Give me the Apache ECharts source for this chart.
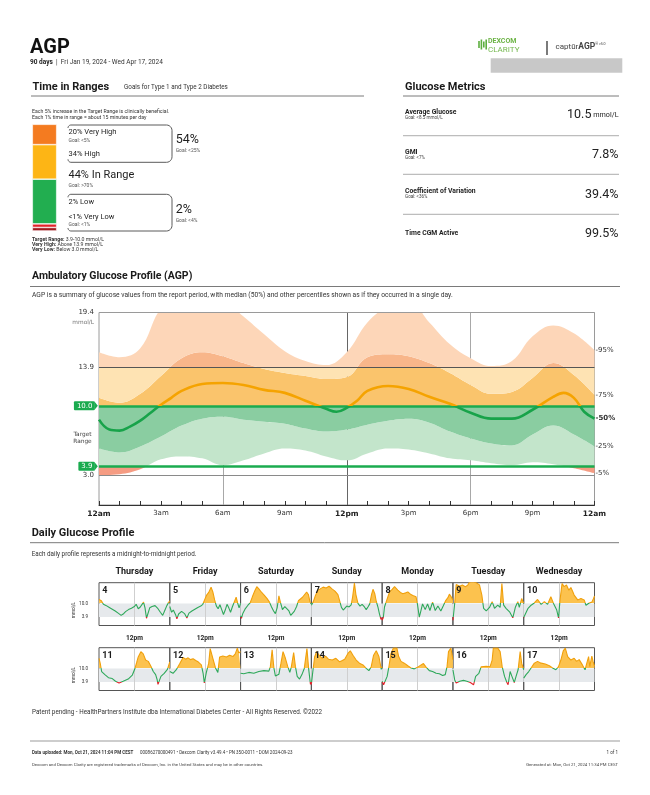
<!DOCTYPE html>
<html>
<head>
<meta charset="utf-8">
<title>AGP Report</title>
<script src="https://cdn.jsdelivr.net/npm/echarts@6/dist/echarts.min.js"></script>
<style>
html,body{margin:0;padding:0;background:#ffffff;}
#chart{width:650px;height:795px;}
</style>
</head>
<body>
<div id="chart"></div>
<script>
// ================= DATA =================
const reportTitle = 'AGP';
const reportDays = '90 days';
const reportRange = 'Fri Jan 19, 2024 - Wed Apr 17, 2024';

// Time in Ranges (bottom to top)
const tirNames = ['Very Low', 'Low', 'In Range', 'High', 'Very High'];
const tirPercent = [0.5, 2, 44, 34, 20];
const tirLabels = ['<1% Very Low', '2% Low', '44% In Range', '34% High', '20% Very High'];
const tirGoals = ['Goal: <1%', '', 'Goal: >70%', '', 'Goal: <5%'];
const tirCombined = ['54%', '2%'];
const tirCombinedGoals = ['Goal: <25%', 'Goal: <4%'];
const tirNotes = ['Each 5% increase in the Target Range is clinically beneficial.', 'Each 1% time in range = about 15 minutes per day'];
const tirDefs = [['Target Range:', ' 3.9-10.0 mmol/L'], ['Very High:', ' Above 13.9 mmol/L'], ['Very Low:', ' Below 3.0 mmol/L']];

// Glucose metrics
const metricNames = ['Average Glucose', 'GMI', 'Coefficient of Variation', 'Time CGM Active'];
const metricGoals = ['Goal: <8.5 mmol/L', 'Goal: <7%', 'Goal: <36%', ''];
const metricValues = ['10.5', '7.8%', '39.4%', '99.5%'];
const metricUnits = ['mmol/L', '', '', ''];

// AGP percentiles (hour of day)
const agpHours = [0,1,2,3,4,5,6,7,8,9,10,11,12,13,14,15,16,17,18,19,20,21,22,23,24];
const agpP5  = [3.0,3.1,3.6,4.6,4.9,4.7,4.0,4.5,5.2,5.7,5.5,4.9,4.5,5.2,5.7,5.6,5.2,4.7,4.5,4.2,4.0,4.3,4.1,3.7,3.2];
const agpP25 = [5.7,5.3,5.9,6.9,8.0,8.7,8.9,8.6,8.4,8.2,7.7,7.4,7.6,8.1,8.5,8.7,8.3,7.4,6.7,6.2,6.0,7.1,8.0,7.1,5.9];
const agpP75 = [10.8,10.3,11.2,13.0,14.8,15.4,15.0,14.3,13.7,13.3,13.0,12.7,12.9,14.9,15.2,15.0,14.3,13.3,12.1,11.2,11.4,12.8,14.3,13.1,11.1];
const agpP95 = [15.4,14.9,15.8,19.8,21.0,21.2,20.6,19.0,17.2,15.5,14.5,14.1,15.4,18.4,20.0,20.5,18.4,16.2,14.8,14.0,14.5,17.0,18.1,17.3,15.6];
const agpMedianHours = [0,0.5,1,1.5,2,2.5,3,3.5,4,5,6,7,8,9,10,11,11.5,12,12.5,13,14,15,16,17,18,19,20,21,22,22.5,23,23.5,24];
const agpMedian = [8.6,7.6,7.5,7.9,8.5,9.3,10.1,10.8,11.5,12.2,12.3,12.1,11.6,11.3,10.5,9.7,9.4,9.8,10.5,11.5,12.0,11.7,10.9,10.2,9.3,8.7,8.7,9.6,10.9,11.3,10.8,9.4,8.7];
const agpXLabels = ['12am','3am','6am','9am','12pm','3pm','6pm','9pm','12am'];
const agpYTicks = [19.4, 13.9, 10.0, 3.9, 3.0];
const agpPctLabels = ['5%','25%','75%','95%','50%'];
const agpYMax = 19.4;

// Daily glucose profile
const dailyWeekdays = ['Thursday','Friday','Saturday','Sunday','Monday','Tuesday','Wednesday'];
const dailyDayNumbers = [4,5,6,7,8,9,10,11,12,13,14,15,16,17];
const day04 = [[0,11.8],[0.8,11.2],[1.5,9.6],[2.5,9.0],[3.5,8.2],[4.5,7.4],[5.5,6.6],[6.5,5.6],[7.5,4.6],[8.2,5.2],[9,6.3],[10,7.2],[11,7.8],[12,8.6],[12.6,9.6],[13.3,7.6],[14,8.4],[14.6,9.6],[15.1,10.6],[15.6,8.0],[16.1,3.3],[16.5,5.0],[17.2,8.0],[18,8.6],[19,9.0],[20,7.6],[20.8,6.0],[21.6,4.6],[22.3,6.8],[23,9.0],[23.6,10.4],[24,11.2]];
const day05 = [[0,8.6],[0.6,6.0],[1.2,7.0],[2.0,4.8],[2.4,3.0],[3,5.2],[4,6.4],[5,5.4],[5.8,3.4],[6.5,5.6],[7.5,6.6],[8.5,7.4],[9.5,8.2],[10.5,8.8],[11.2,9.6],[11.8,11.6],[12.5,13.8],[13.2,15.0],[14,17.4],[14.6,15.2],[15.2,11.6],[15.8,8.8],[16.4,7.6],[17,9.4],[17.6,7.2],[18.2,5.0],[18.8,7.0],[19.4,9.6],[20,8.0],[20.6,6.0],[21.2,8.4],[21.8,10.4],[22.5,12.8],[23,10.2],[23.5,8.0],[24,10.0]];
const day06 = [[0,4.4],[0.3,3.2],[0.8,5.6],[1.5,7.4],[2.5,9.2],[3.3,10.4],[4,13.0],[4.8,15.6],[5.5,17.6],[6.2,16.6],[7,15.2],[8,13.8],[9,12.2],[9.8,10.6],[10.5,8.4],[11.2,6.6],[11.8,5.4],[12.4,8.0],[13,13.4],[13.5,10.6],[14.2,7.2],[15,8.6],[15.6,9.4],[16.4,6.6],[17,4.6],[17.6,4.2],[18.2,6.4],[19,8.6],[19.6,11.2],[20.2,10.4],[21,12.8],[21.6,12.0],[22.4,15.2],[23,14.0],[23.6,10.4],[24,9.8]];
const day07 = [[0,9.2],[0.6,10.6],[1.4,13.6],[2.2,16.0],[3,16.6],[4,17.4],[5,17.0],[6,17.8],[7,16.6],[8,15.6],[9,14.0],[9.6,11.2],[10.2,8.2],[10.8,7.0],[11.4,7.4],[12,8.8],[12.8,8.4],[13.5,9.4],[14,13.0],[14.6,19.2],[15.1,14.0],[15.8,10.0],[16.5,8.8],[17.2,9.6],[18,8.4],[18.6,7.2],[19.3,8.6],[19.8,9.8],[20.4,14.0],[20.9,16.4],[21.5,14.4],[22,11.0],[22.6,8.2],[23.1,5.2],[23.6,2.8],[24,3.4]];
const day08 = [[0,2.4],[0.4,3.6],[0.8,8.4],[1.4,10.8],[2.5,15.2],[3.4,16.4],[4.2,17.6],[5.3,16.0],[6.2,15.0],[7,14.4],[8,14.8],[8.7,15.2],[9.6,14.2],[10.4,13.6],[11.5,13.0],[12,9.4],[12.6,3.8],[13.2,7.0],[13.7,9.8],[14.6,7.2],[15.4,9.8],[16.2,6.8],[17.1,10.6],[18,6.8],[18.9,8.8],[19.9,6.6],[20.7,8.8],[21.6,11.4],[22.3,12.6],[22.8,14.2],[23.4,13.0],[24,11.4]];
const day09 = [[0,2.4],[0.3,2.8],[0.6,10.0],[1.1,18.6],[2.3,17.8],[3.2,18.4],[4.2,17.6],[5,18.2],[5.6,19.6],[6.8,19.8],[7.9,19.4],[9,18.4],[9.8,13.8],[10.4,7.8],[11.3,6.6],[12.4,8.2],[13.3,10.8],[14.1,7.8],[15.2,9.2],[16,8.2],[16.6,19.0],[17.2,9.2],[18,7.8],[19.2,6.2],[20.3,3.5],[21.2,8.4],[22,10.8],[22.5,8.2],[23.3,12.2],[24,10.0]];
const day10 = [[0,3.6],[0.6,3.0],[1.4,7.6],[2.5,9.2],[3.6,10.2],[4.7,11.8],[5.9,9.6],[7,10.8],[8.1,9.6],[9.2,13.0],[10.1,10.0],[11.2,7.0],[11.8,3.4],[12.3,11.4],[13,19.0],[13.7,17.6],[14.5,18.4],[15.3,16.0],[16,17.2],[16.6,15.4],[17.1,13.8],[18.3,11.6],[19.4,12.2],[20.5,11.6],[21.1,9.2],[22.2,10.2],[23.1,10.6],[23.6,12.0],[24,13.4]];
const day11 = [[0,14.6],[0.4,12.4],[0.9,8.6],[2,7.2],[3.2,5.8],[4.5,5.4],[5.6,4.2],[6.8,3.4],[7.4,3.8],[8.2,4.2],[9.9,5.2],[11.3,7.0],[12.2,10.0],[12.8,12.8],[13.3,15.2],[14.2,17.6],[15,16.6],[15.8,13.8],[16.7,13.2],[17.6,11.0],[18.4,8.6],[19.2,7.2],[19.7,5.0],[20,2.8],[20.5,4.6],[21,6.4],[22.1,7.8],[23.2,9.6],[24,13.0]];
const day12 = [[0,8.6],[1.1,7.8],[2.3,9.6],[3.4,12.2],[4.5,15.0],[5.4,14.2],[6.2,14.8],[7,14.0],[7.9,14.4],[8.8,13.6],[9.6,13.0],[10.7,11.6],[11.3,7.8],[11.7,3.4],[12.4,8.2],[13.2,12.4],[13.7,19.0],[14.6,14.6],[15.5,10.2],[16.3,8.2],[16.9,15.2],[18,15.6],[19.2,15.2],[20.3,16.0],[21.4,15.4],[22.2,16.6],[22.9,19.2],[23.4,17.0],[24,17.6]];
const day13 = [[0,7.8],[1.1,7.6],[2.8,8.2],[4.5,7.8],[6.2,8.6],[7.9,9.0],[9.6,8.8],[10.1,10.8],[10.7,18.4],[11.3,10.2],[11.8,6.6],[13,7.4],[13.7,12.4],[14.4,17.6],[15.2,14.6],[16,10.8],[16.7,8.2],[17.2,10.6],[18,17.2],[18.6,10.8],[19.2,6.4],[20,5.2],[20.8,7.2],[21.6,10.0],[22.5,19.0],[23.1,9.6],[23.7,2.8],[24,3.6]];
const day14 = [[0,2.8],[0.5,8.6],[1.1,15.2],[1.8,17.6],[2.6,16.0],[3.7,14.6],[4.8,15.6],[5.8,14.2],[7.1,13.8],[8.3,14.6],[9.6,13.0],[10.5,13.6],[11.3,14.2],[12.4,16.8],[13.2,18.0],[14.1,16.0],[15.2,13.8],[16.3,12.4],[17.5,11.6],[18.6,10.0],[19.5,9.0],[20.3,10.8],[21.1,16.0],[22,18.0],[22.9,15.4],[23.7,9.6],[24,10.8]];
const day15 = [[0,4.2],[0.5,2.6],[1.1,2.2],[1.7,6.4],[2.3,10.8],[3,16.8],[3.8,19.2],[5,19.2],[5.6,15.4],[6.4,13.2],[7.5,12.4],[8.7,11.2],[9.8,10.2],[10.9,9.8],[12.1,10.6],[13.2,11.6],[14,12.2],[14.9,10.6],[16,9.0],[17.1,8.6],[18.3,7.8],[19.4,7.6],[20.5,6.8],[21.4,7.2],[22,10.8],[22.5,17.6],[23.3,19.2],[24,14.0]];
const day16 = [[0,9.4],[0.6,4.8],[1.1,3.4],[2.3,4.2],[3.6,4.6],[4.7,4.2],[5.9,3.6],[7,2.6],[7.7,6.4],[8.8,7.8],[9.6,10.8],[11.3,11.0],[12.6,10.8],[13.3,13.8],[13.7,19.2],[15.2,19.2],[16,17.6],[16.7,10.8],[17.5,6.4],[18.3,3.6],[18.7,2.6],[19.4,8.6],[20,6.4],[20.8,3.6],[21.4,6.4],[22.1,9.4],[22.8,17.6],[23.3,12.4],[24,9.4]];
const day17 = [[0,5.6],[0.8,7.2],[1.7,8.6],[2.5,10.2],[3.6,12.4],[4.7,13.2],[5.9,12.4],[7.3,12.0],[8.7,11.2],[9.8,10.2],[10.9,9.4],[11.8,10.8],[12.6,13.8],[13.4,18.0],[14.1,19.2],[14.9,15.4],[16,13.8],[17.1,14.6],[17.9,13.2],[18.8,14.0],[19.9,11.6],[20.8,9.4],[21.4,12.4],[22,15.4],[22.4,10.8],[23.1,15.6],[23.5,13.2],[24,11.0]];
const dailyTraces = [day04, day05, day06, day07, day08, day09, day10, day11, day12, day13, day14, day15, day16, day17];
const dailyYTicks = [10.0, 3.9];

const footerPatent = 'Patent pending - HealthPartners Institute dba International Diabetes Center - All Rights Reserved. \u00A92022';
const footerUpload = ['Data uploaded: Mon, Oct 21, 2024 11:04 PM CEST', '00086270000491 \u2022 Dexcom Clarity v3.49.4 \u2022 PN 350-0011 \u2022 DOM 2024-09-23'];
const footerTrademark = 'Dexcom and Dexcom Clarity are registered trademarks of Dexcom, Inc. in the United States and may be in other countries.';
const footerGenerated = 'Generated at: Mon, Oct 21, 2024 11:34 PM CEST';
const footerPage = '1 of 1';

// ================= STYLE =================
const FONT = 'Roboto, "Noto Sans", sans-serif';
const AXF = '"DejaVu Sans", sans-serif';
const COL = {
  text: '#1e1e1e', rule: '#7a7a7a', ruleLight: '#bdbdbd',
  tir: ['#a3191e', '#e3232a', '#22ae50', '#fdb515', '#f47b20'],
  outer: ['#fdd6b8', '#fee3b3', '#c3e5cb', '#f59c83'],
  inner: ['#f8b68a', '#fac46c', '#8acda1', '#ee6a57'],
  medAbove: '#f5a300', medIn: '#18a34a', target: '#1aab4f',
  dayLine: ['#f0a00c', '#2ea85a', '#e2232a'], dayFill: '#fcc24e', dayBand: '#e6e9ec'
};

// ================= BUILD =================
const chart = echarts.init(document.getElementById('chart'), null, {renderer: 'canvas', width: 650, height: 795});

const pairs = (xs, ys) => xs.map((x, i) => [x, ys[i]]);
const diff = (a, b) => a.map((v, i) => +(v - b[i]).toFixed(3));

function T(x, y, text, o) {
  const s = Object.assign({text: text, fill: COL.text, fontFamily: FONT, fontSize: 7, fontWeight: 'normal',
    textAlign: 'left', align: 'left', textVerticalAlign: 'middle', verticalAlign: 'middle'}, o || {});
  if (o && o.textAlign) s.align = o.textAlign;
  return {type: 'text', x: x, y: y, silent: true, z: 10, style: s};
}
function L(x1, y1, x2, y2, color, w) {
  return {type: 'line', silent: true, z: 10, shape: {x1: x1, y1: y1, x2: x2, y2: y2}, style: {stroke: color, lineWidth: w || 1}};
}
function arcPts(pts, cx, cy, r, a0, a1) {
  const n = 6;
  for (let k = 0; k <= n; k++) {
    const a = a0 + (a1 - a0) * k / n;
    pts.push([cx + r * Math.cos(a), cy + r * Math.sin(a)]);
  }
}
function bracket(x0, x1, y0, y1, r) {
  const pts = [];
  arcPts(pts, x0 + 3, y0 + 3, 3, Math.PI, 1.5 * Math.PI);
  arcPts(pts, x1 - r, y0 + r, r, 1.5 * Math.PI, 2 * Math.PI);
  arcPts(pts, x1 - r, y1 - r, r, 0, 0.5 * Math.PI);
  arcPts(pts, x0 + 3, y1 - 3, 3, 0.5 * Math.PI, Math.PI);
  return {type: 'polyline', silent: true, z: 10, shape: {points: pts}, style: {stroke: '#5a5a5a', lineWidth: 1, fill: null}};
}
function grad(P, gi, cuts, colors) {
  if (!P) return colors[0];
  const yTop = P(gi, 0, agpYMax)[1], yBot = P(gi, 0, 0)[1];
  const span = yBot - yTop;
  const stops = [];
  let prev = 0;
  colors.forEach((c, i) => {
    const end = i < cuts.length ? (P(gi, 0, cuts[i])[1] - yTop) / span : 1;
    stops.push({offset: Math.max(0, Math.min(1, prev)), color: c});
    stops.push({offset: Math.max(0, Math.min(1, end)), color: c});
    prev = end;
  });
  return new echarts.graphic.LinearGradient(0, yTop, 0, yBot, stops, true);
}

// axis index layout: xAxis 0 = AGP value axis, 1 = AGP category (bands), 2 = TIR, 3.. = daily
// yAxis 0 = AGP, 1 = TIR, 2.. = daily ; grid 0 = AGP, 1 = TIR, 2.. = daily
function buildOption(P) {
  const grids = [], xAxes = [], yAxes = [], series = [], g = [];

  // ---------- grid 0 : AGP ----------
  grids.push({left: 99, right: 55.5, top: 312.5, bottom: 290, show: true, borderColor: '#9a9a9a', borderWidth: 1,
    backgroundColor: 'transparent', containLabel: false, outerBoundsMode: 'none'});
  xAxes.push({gridIndex: 0, type: 'value', min: 0, max: 24, interval: 1, position: 'bottom',
    axisLine: {show: true, onZero: false, lineStyle: {color: '#333', width: 1}},
    axisTick: {show: true, inside: true, length: 4, lineStyle: {color: '#333', width: 1}},
    splitLine: {show: false},
    axisLabel: {show: true, margin: 5, color: '#333', fontFamily: AXF, fontSize: 7,
      showMinLabel: true, showMaxLabel: true,
      formatter: v => (v % 3 === 0 ? (v % 12 === 0 ? '{b|' + agpXLabels[v / 3] + '}' : agpXLabels[v / 3]) : ''),
      rich: {b: {fontFamily: AXF, fontSize: 7.5, fontWeight: 'bold', color: '#222'}}}});
  xAxes.push({gridIndex: 0, type: 'category', data: agpHours.map(String), boundaryGap: false, show: false, position: 'top'});
  yAxes.push({gridIndex: 0, type: 'value', min: 0, max: agpYMax, show: false, splitLine: {show: false}});

  // vertical guide lines (under bands)
  series.push({type: 'line', xAxisIndex: 0, yAxisIndex: 0, data: pairs(agpMedianHours, agpMedian), silent: true,
    symbol: 'none', lineStyle: {opacity: 0, width: 0}, z: 1,
    markLine: {silent: true, z: 1, symbol: ['none', 'none'], label: {show: false}, animation: false,
      data: [{xAxis: 6, lineStyle: {color: '#a8a8a8', width: 1, type: 'solid'}},
             {xAxis: 12, lineStyle: {color: '#666', width: 1, type: 'solid'}},
             {xAxis: 18, lineStyle: {color: '#a8a8a8', width: 1, type: 'solid'}}]}});

  const endLab = (txt, bold) => ({show: true, formatter: '-' + txt, distance: 1, color: '#333',
    fontFamily: AXF, fontSize: 7, fontWeight: bold ? 'bold' : 'normal'});
  // percentile bands (stacked on the category axis)
  const band = (name, data, colors, lab) => {
    const s = {type: 'line', name: name, stack: 'agp', xAxisIndex: 1, yAxisIndex: 0, smooth: 0.4, symbol: 'none', silent: true,
      data: data, lineStyle: {opacity: 0, width: 0}, z: 2, endLabel: endLab(lab)};
    if (colors) s.areaStyle = {opacity: 1, color: grad(P, 0, [13.9, 10, 3.9], colors)};
    return s;
  };
  series.push(band('p5', agpP5, null, agpPctLabels[0]));
  series.push(band('p25', diff(agpP25, agpP5), COL.outer, agpPctLabels[1]));
  series.push(band('p75', diff(agpP75, agpP25), COL.inner, agpPctLabels[2]));
  series.push(band('p95', diff(agpP95, agpP75), COL.outer, agpPctLabels[3]));

  // horizontal reference lines with labels
  const hl = (v, color, w, boxed) => ({yAxis: v, lineStyle: {color: color, width: w, type: 'solid'},
    label: {show: true, position: 'start', distance: boxed ? 4.5 : 5, formatter: v.toFixed(1),
      color: boxed ? '#fff' : '#333', fontFamily: AXF, fontSize: 7,
      backgroundColor: boxed ? COL.target : 'transparent', padding: boxed ? [1, 2, 1, 3] : 0, borderRadius: 1}});
  series.push({type: 'line', xAxisIndex: 0, yAxisIndex: 0, data: pairs(agpMedianHours, agpMedian), silent: true,
    symbol: 'none', lineStyle: {opacity: 0, width: 0}, z: 3,
    markLine: {silent: true, z: 5, symbol: ['none', 'none'], animation: false,
      data: [hl(agpYTicks[0], '#9a9a9a', 1, false), hl(agpYTicks[1], '#555', 1, false),
             hl(agpYTicks[2], COL.target, 2.6, true), hl(agpYTicks[3], COL.target, 2.6, true),
             hl(agpYTicks[4], '#8a8a8a', 1, false)]}});

  // median
  series.push({type: 'line', name: 'median', xAxisIndex: 0, yAxisIndex: 0, smooth: 0.4, symbol: 'none', silent: true,
    data: pairs(agpMedianHours, agpMedian), z: 6,
    lineStyle: {width: 2.6, color: grad(P, 0, [10], [COL.medAbove, COL.medIn])},
    endLabel: endLab(agpPctLabels[4], true)});

  // ---------- grid 1 : Time in ranges bar ----------
  const tirDisplay = tirPercent.map(v => Math.max(v, 3.5));
  const tirTotal = tirDisplay.reduce((a, b) => a + b, 0);
  grids.push({left: 32.3, top: 124.3, width: 24.4, height: 106.7, show: false, containLabel: false, outerBoundsMode: 'none'});
  xAxes.push({gridIndex: 1, type: 'category', data: ['TIR'], show: false});
  yAxes.push({gridIndex: 1, type: 'value', min: 0, max: tirTotal, show: false, splitLine: {show: false}});
  tirNames.forEach((n, i) => {
    series.push({type: 'bar', name: n, stack: 'tir', xAxisIndex: 2, yAxisIndex: 1, barWidth: '100%', silent: true,
      data: [tirDisplay[i]], itemStyle: {color: COL.tir[i], borderColor: '#fff', borderWidth: 0.6}});
  });

  // ---------- grids 2..15 : daily panels ----------
  const panelL = 99, panelR = 594.5, panelW = (panelR - panelL) / 7;
  const rowTop = [582.7, 647.7], rowH = 42.8;
  dailyTraces.forEach((tr, i) => {
    const gi = 2 + i, row = Math.floor(i / 7), col = i % 7;
    grids.push({left: panelL + col * panelW, top: rowTop[row], width: panelW, height: rowH, show: true,
      borderColor: '#555', borderWidth: 1, containLabel: false, outerBoundsMode: 'none'});
    xAxes.push({gridIndex: gi, type: 'value', min: 0, max: 24, show: false, splitLine: {show: false}});
    yAxes.push({gridIndex: gi, type: 'value', min: 0, max: agpYMax, show: false, splitLine: {show: false}});
    series.push({type: 'line', xAxisIndex: 3 + i, yAxisIndex: 2 + i, data: tr, symbol: 'none', silent: true, z: 3,
      lineStyle: {width: 1.1, color: grad(P, gi, [10, 3.9], COL.dayLine)},
      areaStyle: {origin: 10, opacity: 1, color: grad(P, gi, [10], [COL.dayFill, 'rgba(255,255,255,0)'])},
      markArea: {silent: true, z: 1, itemStyle: {color: COL.dayBand}, data: [[{yAxis: 3.9}, {yAxis: 10}]]},
      markLine: {silent: true, z: 2, symbol: ['none', 'none'], label: {show: false}, animation: false,
        lineStyle: {color: '#cfcfcf', width: 1, type: 'solid'}, data: [{xAxis: 12}]}});
  });

  // ---------- graphics ----------
  // header
  g.push(T(30, 47.5, reportTitle, {fontSize: 20, fontWeight: 'bold', fill: '#111'}));
  g.push(T(30, 62.5, '{b|' + reportDays + '}  |  ' + reportRange, {fontSize: 6.5, fill: '#333',
    rich: {b: {fontFamily: FONT, fontSize: 6.5, fontWeight: 'bold', fill: '#222', color: '#222'}}}));
  // logo
  [[478.2, 7], [480.6, 10], [483.0, 6], [485.4, 10]].forEach(b => {
    g.push({type: 'rect', silent: true, z: 10, shape: {x: b[0], y: 44.5 - b[1] / 2, width: 1.6, height: b[1]}, style: {fill: '#5cae3e'}});
  });
  g.push(T(488, 40.8, 'DEXCOM', {fontSize: 7, fontWeight: 'bold', fill: '#6bb344'}));
  g.push(T(488, 49.5, 'CLARITY', {fontSize: 8, fill: '#74b84e'}));
  g.push(L(547, 41, 547, 55, '#222', 1.2));
  g.push(T(555.5, 47, '{a|capt\u016Br}{b|AGP}{c|\u00AE v5.0}', {fontSize: 8, fill: '#444',
    rich: {a: {fontFamily: FONT, fontSize: 8, color: '#444'}, b: {fontFamily: FONT, fontSize: 8.5, fontWeight: 'bold', color: '#1b8fd6'},
      c: {fontFamily: FONT, fontSize: 3.6, color: '#444', verticalAlign: 'top'}}}));
  g.push({type: 'rect', silent: true, z: 10, shape: {x: 490.7, y: 58.3, width: 131.6, height: 14.4}, style: {fill: '#c8c8c8'}});

  // Time in Ranges panel
  g.push(T(32.5, 87, 'Time in Ranges', {fontSize: 11, fontWeight: 'bold', fill: '#1a1a1a'}));
  g.push(T(124, 87.3, 'Goals for Type 1 and Type 2 Diabetes', {fontSize: 6.3, fill: '#333'}));
  g.push(L(31, 96, 364, 96, COL.rule, 1));
  g.push(T(32, 111.3, tirNotes[0], {fontSize: 5.2, fill: '#333'}));
  g.push(T(32, 117.6, tirNotes[1], {fontSize: 5.2, fill: '#333'}));
  g.push(bracket(68, 172, 125, 162.3, 5.5));
  g.push(bracket(68, 172, 194.3, 231, 5.5));
  g.push(T(68.5, 132.5, tirLabels[4], {fontSize: 7.5}));
  g.push(T(68.5, 140.8, tirGoals[4], {fontSize: 5, fill: '#555'}));
  g.push(T(68.5, 154.2, tirLabels[3], {fontSize: 7.5}));
  g.push(T(175.7, 140.3, tirCombined[0], {fontSize: 12.5}));
  g.push(T(175.7, 151.2, tirCombinedGoals[0], {fontSize: 5, fill: '#555'}));
  g.push(T(68.5, 175.2, tirLabels[2], {fontSize: 11}));
  g.push(T(68.5, 185.8, tirGoals[2], {fontSize: 5, fill: '#555'}));
  g.push(T(68.5, 202.5, tirLabels[1], {fontSize: 7.5}));
  g.push(T(68.5, 216.8, tirLabels[0], {fontSize: 7.5}));
  g.push(T(68.5, 225.2, tirGoals[0], {fontSize: 5, fill: '#555'}));
  g.push(T(175.7, 210.3, tirCombined[1], {fontSize: 12.5}));
  g.push(T(175.7, 220.8, tirCombinedGoals[1], {fontSize: 5, fill: '#555'}));
  tirDefs.forEach((d, i) => {
    g.push(T(32, 239.2 + i * 5.1, '{b|' + d[0] + '}' + d[1], {fontSize: 5.2, fill: '#333',
      rich: {b: {fontFamily: FONT, fontSize: 5.2, fontWeight: 'bold', color: '#111'}}}));
  });

  // Glucose Metrics panel
  g.push(T(405, 87, 'Glucose Metrics', {fontSize: 11, fontWeight: 'bold', fill: '#1a1a1a'}));
  g.push(L(403, 96, 619, 96, COL.rule, 1));
  const mNameY = [112.8, 152.4, 191.8, 233.4], mValY = [115.3, 155.3, 195.3, 233.6], mSepY = [135.7, 174.3, 214.3];
  metricNames.forEach((n, i) => {
    g.push(T(405, mNameY[i], n, {fontSize: 6.8, fontWeight: 'bold', fill: '#222'}));
    if (metricGoals[i]) g.push(T(405, mNameY[i] + 5.2, metricGoals[i], {fontSize: 4.6, fill: '#444'}));
    const txt = metricUnits[i] ? '{v|' + metricValues[i] + '}{u| ' + metricUnits[i] + '}' : metricValues[i];
    g.push(T(618.5, mValY[i], txt, {fontSize: 12.5, textAlign: 'right', fill: '#222',
      rich: {v: {fontFamily: FONT, fontSize: 12.5, color: '#222'}, u: {fontFamily: FONT, fontSize: 7.2, color: '#222'}}}));
  });
  mSepY.forEach(y => g.push(L(403, y, 619, y, COL.ruleLight, 1.2)));

  // AGP section
  g.push(T(32, 276, 'Ambulatory Glucose Profile (AGP)', {fontSize: 10.5, fontWeight: 'bold', fill: '#1a1a1a'}));
  g.push(L(30, 286.5, 620, 286.5, COL.rule, 1));
  g.push(T(32, 295.5, 'AGP is a summary of glucose values from the report period, with median (50%) and other percentiles shown as if they occurred in a single day.',
    {fontSize: 6.7, fill: '#333'}));
  if (P) {
    const top = P(0, 0, agpYMax), mid = P(0, 0, (agpYTicks[2] + agpYTicks[3]) / 2);
    g.push(T(top[0] - 5, top[1] + 10, 'mmol/L', {fontFamily: AXF, fontSize: 5.8, fill: '#777', textAlign: 'right'}));
    g.push(T(82.5, mid[1] - 1.5, 'Target', {fontFamily: AXF, fontSize: 5.8, fill: '#444', textAlign: 'center'}));
    g.push(T(82.5, mid[1] + 5.2, 'Range', {fontFamily: AXF, fontSize: 5.8, fill: '#444', textAlign: 'center'}));
    // arrow tips of the green target labels
    [agpYTicks[2], agpYTicks[3]].forEach(v => {
      const p = P(0, 0, v);
      g.push({type: 'polygon', silent: true, z: 10,
        shape: {points: [[p[0] - 4.8, p[1] - 4.6], [p[0] - 1.2, p[1]], [p[0] - 4.8, p[1] + 4.6]]},
        style: {fill: COL.target}});
    });
  }

  // Daily section
  g.push(T(31.7, 533.5, 'Daily Glucose Profile', {fontSize: 11, fontWeight: 'bold', fill: '#1a1a1a'}));
  g.push(L(30, 542.7, 619, 542.7, COL.rule, 1));
  g.push(T(31.7, 554.5, 'Each daily profile represents a midnight-to-midnight period.', {fontSize: 6.3, fill: '#333'}));
  if (P) {
    dailyWeekdays.forEach((w, c) => {
      const p = P(2 + c, 12, agpYMax);
      g.push(T(p[0], 571.8, w, {fontSize: 9, fontWeight: 'bold', fill: '#1a1a1a', textAlign: 'center'}));
      const p2 = P(2 + c, 12, 0);
      g.push(T(p2[0], 638.4, '12pm', {fontSize: 6.6, fontWeight: 'bold', fill: '#222', textAlign: 'center'}));
    });
    dailyDayNumbers.forEach((d, i) => {
      const p = P(2 + i, 0, agpYMax);
      g.push(T(p[0] + 3.3, p[1] + 8, String(d), {fontSize: 9, fontWeight: 'bold', fill: '#1a1a1a'}));
    });
    [2, 9].forEach(gi => {
      dailyYTicks.forEach(v => {
        const p = P(gi, 0, v);
        g.push(T(p[0] - 11, p[1], v.toFixed(1), {fontSize: 4.6, fill: '#333', textAlign: 'right'}));
      });
      const pm = P(gi, 0, 7);
      const lab = T(73.5, pm[1], 'mmol/L', {fontSize: 4.6, fill: '#333', textAlign: 'center'});
      lab.rotation = Math.PI / 2;
      g.push(lab);
    });
  }

  // Footer
  g.push(T(32, 712, footerPatent, {fontSize: 6.3, fill: '#333'}));
  g.push(L(30, 741, 620, 741, COL.ruleLight, 1.5));
  g.push(T(32, 752.8, '{b|' + footerUpload[0] + '}      ' + footerUpload[1], {fontSize: 4.5, fill: '#333',
    rich: {b: {fontFamily: FONT, fontSize: 4.5, fontWeight: 'bold', color: '#222'}}}));
  g.push(T(618, 752.8, footerPage, {fontSize: 4.5, fill: '#333', textAlign: 'right'}));
  g.push(T(32, 765, footerTrademark, {fontSize: 4.3, fill: '#444'}));
  g.push(T(618, 765, footerGenerated, {fontSize: 4.3, fill: '#444', textAlign: 'right'}));

  return {
    animation: false,
    backgroundColor: '#ffffff',
    textStyle: {fontFamily: FONT},
    grid: grids, xAxis: xAxes, yAxis: yAxes, series: series, graphic: {elements: g}
  };
}

chart.setOption(buildOption(null));
const P = (gi, x, y) => chart.convertToPixel({gridIndex: gi}, [x, y]);
chart.setOption(buildOption(P), true);
</script>
</body>
</html>
